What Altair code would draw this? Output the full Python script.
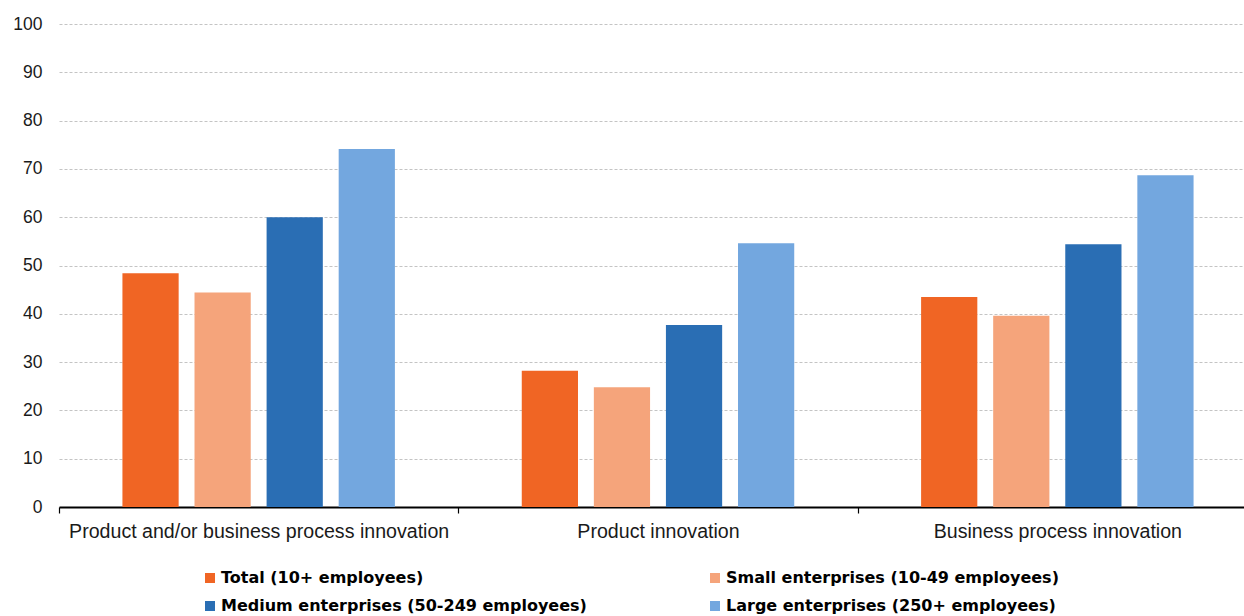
import altair as alt
import pandas as pd

# Innovation activity by enterprise size class (% of enterprises)
categories = [
    "Product and/or business process innovation",
    "Product innovation",
    "Business process innovation",
]
series = [
    "Total (10+ employees)",
    "Small enterprises (10-49 employees)",
    "Medium enterprises (50-249 employees)",
    "Large enterprises (250+ employees)",
]
total = [48.4, 28.2, 43.5]
small = [44.4, 24.8, 39.6]
medium = [60.0, 37.7, 54.4]
large = [74.1, 54.6, 68.7]
colors = ["#F06524", "#F5A47B", "#2A6EB4", "#73A7DF"]
y_ticks = list(range(0, 101, 10))

rows = []
for name, values in zip(series, [total, small, medium, large]):
    for cat, v in zip(categories, values):
        rows.append({"category": cat, "size": name, "value": v})
df = pd.DataFrame(rows)

chart = (
    alt.Chart(df)
    .mark_bar()
    .encode(
        x=alt.X(
            "category:N",
            sort=categories,
            scale=alt.Scale(paddingInner=0, paddingOuter=0, range=[0, 1198]),
            axis=alt.Axis(
                title=None,
                labelAngle=0,
                labelFontSize=19.6,
                labelFont="Liberation Sans",
                labelColor="#1a1a1a",
                labelPadding=9,
                labelLimit=500,
                tickBand="extent",
                tickSize=6,
                tickColor="#000000",
                tickWidth=1.2,
                domainColor="#000000",
                domainWidth=2,
                grid=False,
            ),
        ),
        xOffset=alt.XOffset(
            "size:N",
            sort=series,
            scale=alt.Scale(paddingInner=0.22, paddingOuter=0.88),
        ),
        y=alt.Y(
            "value:Q",
            scale=alt.Scale(domain=[0, 100], nice=False),
            axis=alt.Axis(
                title=None,
                values=y_ticks,
                labelFontSize=17.5,
                labelFont="Liberation Sans",
                labelColor="#1a1a1a",
                labelPadding=17,
                ticks=False,
                domain=False,
                grid=True,
                gridColor="#C4C4C4",
                gridDash=[3, 2],
                gridWidth=1,
            ),
        ),
        color=alt.Color(
            "size:N",
            sort=series,
            scale=alt.Scale(domain=series, range=colors),
            legend=alt.Legend(
                title=None,
                orient="none",
                direction="horizontal",
                legendX=143,
                legendY=546,
                columns=2,
                columnPadding=120,
                rowPadding=12,
                symbolType="square",
                symbolSize=100,
                symbolStrokeWidth=0,
                labelFont="DejaVu Sans",
                labelFontWeight="bold",
                labelFontSize=16,
                labelColor="#000000",
                labelOffset=3,
                labelLimit=500,
            ),
        ),
    )
    .properties(
        width=1185,
        height=483,
        background="#ffffff",
        autosize=alt.AutoSizeParams(type="none"),
        padding={"left": 59, "top": 24, "right": 0, "bottom": 109},
    )
    .configure_view(strokeWidth=0, stroke="transparent")
)

chart.save("out.html", embed_options={"renderer": "svg", "actions": False})
